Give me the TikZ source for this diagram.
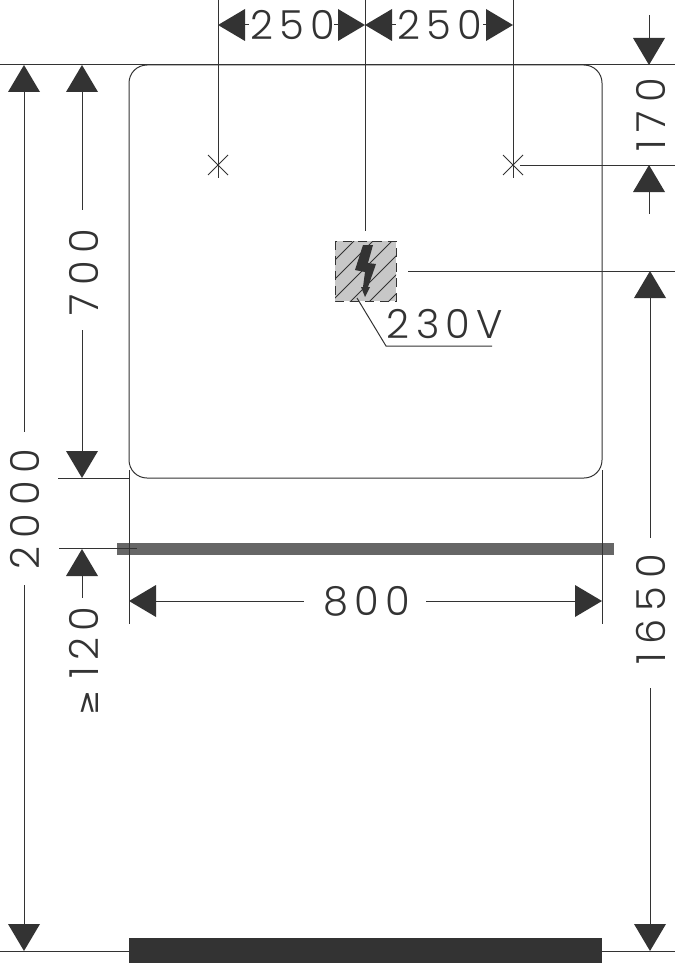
\documentclass[tikz,border=0pt]{standalone}
\usepackage{fontspec}
\setmainfont{Poppins}[UprightFont=* Light,LetterSpace=16]
\newfontfamily\widefont{Poppins}[UprightFont=* Light,LetterSpace=20]
\newfontfamily\gefont{DejaVu Sans}
\definecolor{inkc}{HTML}{333333}
\tikzset{
  dim/.style={draw=inkc,line width=1pt},
  tip/.style={fill=inkc,draw=none},
  lbl/.style={text=inkc,inner sep=0pt,font=\fontsize{40}{40}\selectfont},
  vlbl/.style={lbl,rotate=90,font=\widefont\fontsize{40}{40}\selectfont}
}
\newcommand{\arR}[2]{\fill[tip] (#1,#2)--(#1-27,#2-16)--(#1-27,#2+16)--cycle;}
\newcommand{\arL}[2]{\fill[tip] (#1,#2)--(#1+27,#2-16)--(#1+27,#2+16)--cycle;}
\newcommand{\arU}[2]{\fill[tip] (#1,#2)--(#1-16,#2+27)--(#1+16,#2+27)--cycle;}
\newcommand{\arD}[2]{\fill[tip] (#1,#2)--(#1-16,#2-27)--(#1+16,#2-27)--cycle;}
\begin{document}
\begin{tikzpicture}[x=1pt,y=-1pt]
\useasboundingbox (0,0) rectangle (675,963);
% bars
\fill[inkc] (129,938) rectangle (602,963);
\fill[black!60] (117,543) rectangle (614,555);
% mirror
\draw[dim,rounded corners=18pt] (129,65) rectangle (602,478);
% reference lines
\draw[dim] (0,65)--(675,65);
\draw[dim] (0,951)--(675,951);
\draw[dim] (218,0)--(218,178) (365,0)--(365,231) (513,0)--(513,178);
\draw[dim] (208,155)--(228,175) (208,175)--(228,155);
\draw[dim] (503,155)--(523,175) (503,175)--(523,155);
\draw[dim] (520,165)--(675,165);
\draw[dim] (408,271)--(675,271);
\draw[dim] (58,478)--(129,478);
\draw[dim] (59,548)--(137,548);
\draw[dim] (129,470)--(129,624) (602,470)--(602,624);
% top dimensions
\arL{218}{25}\arR{365}{25}\arL{365}{25}\arR{513}{25}
\draw[dim] (245,25)--(249,25) (334,25)--(338,25) (392,25)--(396,25) (483,25)--(487,25);
\node[lbl] (a250) at (293,25) {250};
\node[lbl] (b250) at (440,25) {250};
% 170
\arD{649}{65}\arU{649}{165}
\draw[dim] (649,15)--(649,38) (649,192)--(649,214);
\node[vlbl] (n170) at (651,115) {170};
% 1650
\arU{650}{271}\arD{650}{951}
\draw[dim] (650,297)--(650,538) (650,688)--(650,925);
\node[vlbl] (n1650) at (651,609) {1650};
% 2000
\arU{24}{65}\arD{24}{951}
\draw[dim] (24,92)--(24,432) (24,585)--(24,925);
\node[vlbl] (n2000) at (25,509) {2000};
% 700
\arU{82}{65}\arD{82}{478}
\draw[dim] (82,92)--(82,210) (82,330)--(82,451);
\node[vlbl] (n700) at (84,272) {700};
% 120
\arU{82}{549}
\draw[dim] (82,575)--(82,598);
\node[lbl,rotate=90] (n120) at (84,661) {{\gefont\fontsize{30}{30}\selectfont ≥}\hspace{12pt}120};
% 800
\arL{129}{601}\arR{602}{601}
\draw[dim] (156,601)--(304,601) (426,601)--(575,601);
\node[lbl] (n800) at (367,601) {800};
% electric box
\begin{scope}
\clip (335,241) rectangle (396,301);
\fill[black!22] (335,241) rectangle (396,301);
\foreach \k in {0,...,8} \draw[inkc,line width=.8pt] (256+19*\k,320)--(256+19*\k+90,230);
\end{scope}
\draw[inkc,line width=1pt,dash pattern=on 9pt off 6pt] (335,241) rectangle (396,301);
\fill[inkc] (363,245)--(373,245)--(368,263)--(376,264)--(368,287)--(370,287)--(365,297)--(361,287)--(363,287)--(365,272)--(355,270)--cycle;
\draw[dim] (357,298)--(386,346)--(492,346);
\node[lbl] (v230) at (445,324) {230V};
\end{tikzpicture}
\end{document}
